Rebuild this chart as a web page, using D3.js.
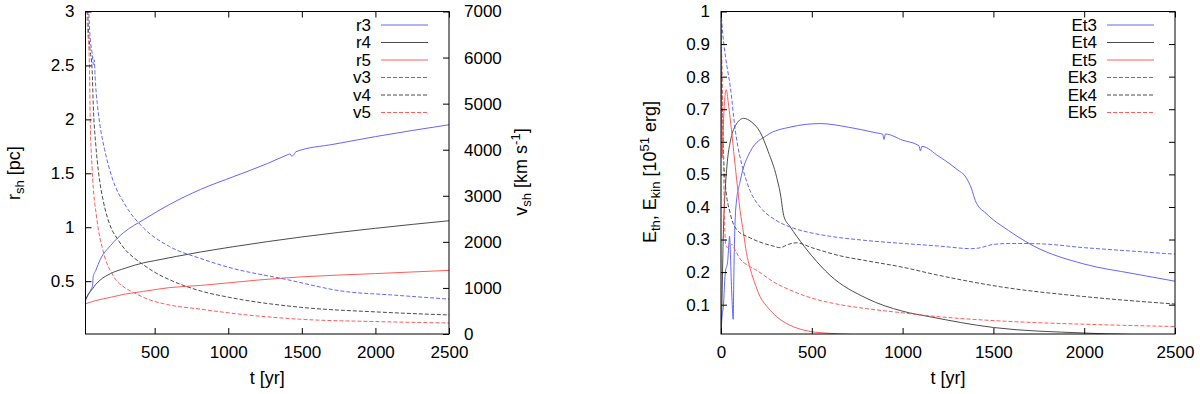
<!DOCTYPE html>
<html>
<head>
<meta charset="utf-8">
<script src="https://cdn.jsdelivr.net/npm/d3@7"></script>
<style>
  body { margin: 0; background: #fff; }
  svg { display: block; font-family: "Liberation Sans", Arial, sans-serif; }
  .tick text { font-size: 17px; fill: #000; }
</style>
</head>
<body>
<svg id="chart" width="1200" height="394"></svg>
<script>
// ---- data: [t (yr), value] ----
// left panel, shock radius (pc)
const r3 = [[30,0.32],[50,0.38],[70,0.43],[78,0.46],[82,0.54],[100,0.6],[130,0.7],[200,0.83],[289,0.95],[425,1.07],[600,1.21],[811,1.35],[1038,1.47],[1266,1.59],[1400,1.67],[1420,1.68],[1430,1.66],[1445,1.67],[1460,1.70],[1719,1.77],[2000,1.84],[2500,1.95]];
const r4 = [[30,0.33],[50,0.38],[78,0.43],[100,0.47],[130,0.51],[200,0.57],[300,0.62],[424,0.67],[500,0.69],[650,0.73],[811,0.77],[1038,0.82],[1500,0.91],[2000,0.99],[2500,1.06]];
const r5 = [[30,0.29],[100,0.32],[200,0.35],[300,0.38],[424,0.405],[600,0.44],[811,0.46],[1200,0.51],[1500,0.54],[2000,0.57],[2500,0.60]];
// left panel, shock velocity (km/s)
const v3 = [[45,7600],[52,7000],[60,6500],[75,6100],[85,5850],[90,5950],[95,5600],[110,5000],[130,4500],[160,4000],[210,3400],[300,2800],[425,2300],[600,1900],[811,1640],[1000,1450],[1378,1195],[1800,920],[2100,850],[2500,757]];
const v4 = [[40,7800],[45,7000],[60,6200],[74,5800],[85,4800],[100,4100],[119,3500],[150,2900],[198,2350],[250,2050],[300,1830],[357,1660],[424,1500],[500,1340],[600,1180],[811,935],[1000,800],[1491,580],[2000,480],[2500,413]];
const v5 = [[35,7800],[40,7000],[57,5800],[62,4650],[75,3600],[107,2500],[150,1800],[221,1250],[300,1000],[357,900],[450,760],[584,640],[811,540],[1000,460],[1491,320],[2000,270],[2500,240]];
// right panel, thermal energy (1e51 erg)
const et3 = [[0,0.01],[5,0.06],[14,0.1],[20,0.17],[24,0.2],[36,0.23],[44,0.29],[47,0.31],[51,0.27],[55,0.2],[62,0.1],[67,0.055],[71,0.2],[75,0.31],[82,0.4],[106,0.48],[161,0.57],[253,0.62],[380,0.645],[546,0.656],[700,0.645],[850,0.628],[890,0.623],[898,0.607],[905,0.624],[1000,0.605],[1090,0.588],[1098,0.572],[1106,0.586],[1200,0.555],[1261,0.532],[1300,0.515],[1350,0.49],[1380,0.455],[1400,0.42],[1420,0.40],[1450,0.385],[1500,0.36],[1538,0.345],[1722,0.28],[1998,0.225],[2274,0.195],[2500,0.172]];
const et4 = [[0,0.01],[5,0.1],[12,0.3],[18,0.4],[24,0.46],[35,0.54],[51,0.6],[80,0.65],[124,0.672],[170,0.66],[215,0.63],[260,0.57],[307,0.49],[330,0.43],[340,0.39],[347,0.37],[380,0.34],[417,0.31],[500,0.25],[601,0.19],[800,0.12],[1000,0.08],[1150,0.063],[1500,0.03],[2000,0.013],[2500,0.006]];
const et5 = [[0,1.0],[3,0.75],[6,0.55],[10,0.6],[15,0.68],[22,0.74],[29,0.76],[40,0.72],[51,0.67],[70,0.57],[87,0.48],[105,0.39],[124,0.32],[140,0.26],[161,0.21],[190,0.16],[215,0.125],[260,0.09],[307,0.063],[400,0.032],[491,0.018],[600,0.012],[700,0.009],[900,0.006]];
// right panel, kinetic energy (1e51 erg)
const ek3 = [[0,1.0],[10,0.93],[25,0.86],[51,0.77],[80,0.63],[124,0.51],[160,0.45],[215,0.40],[300,0.36],[399,0.335],[500,0.32],[601,0.31],[800,0.297],[1000,0.288],[1200,0.28],[1380,0.272],[1420,0.274],[1500,0.285],[1600,0.288],[1750,0.287],[2000,0.275],[2250,0.265],[2500,0.255]];
const ek4 = [[0,1.0],[5,0.8],[12,0.6],[24,0.47],[51,0.38],[87,0.33],[161,0.305],[287,0.28],[325,0.275],[370,0.285],[417,0.29],[500,0.275],[656,0.25],[800,0.235],[1000,0.215],[1200,0.19],[1538,0.155],[1998,0.125],[2500,0.102]];
const ek5 = [[0,1.0],[5,0.8],[13,0.55],[20,0.35],[27,0.28],[40,0.275],[60,0.285],[80,0.265],[106,0.24],[150,0.22],[197,0.205],[289,0.17],[380,0.145],[473,0.125],[656,0.1],[800,0.088],[1000,0.075],[1200,0.063],[1538,0.05],[2000,0.04],[2500,0.033]];

// tick values
const tTicksL = [500, 1000, 1500, 2000, 2500];
const tTicksR = [0, 500, 1000, 1500, 2000, 2500];
const rTicks = [0.5, 1, 1.5, 2, 2.5, 3];
const vTicks = [0, 1000, 2000, 3000, 4000, 5000, 6000, 7000];
const eTicks = [0.1, 0.2, 0.3, 0.4, 0.5, 0.6, 0.7, 0.8, 0.9, 1];

const BLUE = '#6464ff', GREY = '#4c4c4c', RED = '#ff5c5c';

const svg = d3.select('#chart');

// panel frames
const L = {x0: 85.5, x1: 449, y0: 11.5, y1: 334};
const R = {x0: 721, x1: 1175, y0: 11.5, y1: 334};

const xL = d3.scaleLinear([30, 2500], [L.x0, L.x1]);
const yL = d3.scaleLinear([0.01, 3], [L.y1, L.y0]);
const yV = d3.scaleLinear([0, 7000], [L.y1, L.y0]);
const xR = d3.scaleLinear([0, 2500], [R.x0, R.x1]);
const yR = d3.scaleLinear([0.01, 1], [R.y1, R.y0]);

const defs = svg.append('defs');
[['clipL', L], ['clipR', R]].forEach(([id, p]) => {
    defs.append('clipPath').attr('id', id).append('rect')
        .attr('x', p.x0).attr('y', p.y0).attr('width', p.x1 - p.x0).attr('height', p.y1 - p.y0);
});

function drawAxes(p, x, y, xTicks, yTicks, yRight) {
    const g = svg.append('g');
    const tk = 6;
    g.append('g').attr('transform', `translate(0,${p.y1})`)
        .call(d3.axisBottom(x).tickValues(xTicks).tickSizeInner(-tk).tickSizeOuter(0).tickPadding(12).tickFormat(d3.format('d')));
    g.append('g').attr('transform', `translate(0,${p.y0})`)
        .call(d3.axisTop(x).tickValues(xTicks).tickSizeInner(-tk).tickSizeOuter(0).tickFormat(''));
    g.append('g').attr('transform', `translate(${p.x0},0)`)
        .call(d3.axisLeft(y).tickValues(yTicks).tickSizeInner(-tk).tickSizeOuter(0).tickPadding(11).tickFormat(d => d));
    if (yRight) {
        g.append('g').attr('transform', `translate(${p.x1},0)`)
            .call(d3.axisRight(yRight.scale).tickValues(yRight.ticks).tickSizeInner(-tk).tickSizeOuter(0).tickPadding(15).tickFormat(d3.format('d')));
    } else {
        g.append('g').attr('transform', `translate(${p.x1},0)`)
            .call(d3.axisRight(y).tickValues(yTicks).tickSizeInner(-tk).tickSizeOuter(0).tickFormat(''));
    }
    g.selectAll('.domain').remove();
    g.selectAll('.tick line').attr('stroke', '#000');
    g.selectAll('g').attr('font-size', null).attr('font-family', null);
    svg.append('rect')
        .attr('x', p.x0).attr('y', p.y0).attr('width', p.x1 - p.x0).attr('height', p.y1 - p.y0)
        .attr('fill', 'none').attr('stroke', '#000').attr('stroke-width', 1);
}

function drawLines(series, x, clip) {
    const g = svg.append('g').attr('clip-path', `url(#${clip})`);
    series.forEach(s => {
        const line = d3.line().x(d => x(d[0])).y(d => s.y(d[1])).curve(d3.curveMonotoneX);
        g.append('path')
            .attr('d', line(s.data))
            .attr('fill', 'none')
            .attr('stroke', s.color)
            .attr('stroke-width', 1)
            .attr('stroke-dasharray', s.dash ? '4,2' : null);
    });
}

function drawLegend(series, xText, xs0, xs1, yStart, step) {
    const g = svg.append('g');
    series.forEach((s, i) => {
        const y = yStart + i * step;
        g.append('text').attr('x', xText).attr('y', y).attr('dy', '0.35em')
            .attr('text-anchor', 'end').attr('font-size', 17).text(s.name);
        g.append('line').attr('x1', xs0).attr('x2', xs1).attr('y1', y).attr('y2', y)
            .attr('stroke', s.color).attr('stroke-width', 1)
            .attr('stroke-dasharray', s.dash ? '4,2' : null);
    });
}

// ---- left panel ----
const leftSeries = [
    {name: 'r3', data: r3, color: BLUE, y: yL},
    {name: 'r4', data: r4, color: GREY, y: yL},
    {name: 'r5', data: r5, color: RED, y: yL},
    {name: 'v3', data: v3, color: BLUE, y: yV, dash: true},
    {name: 'v4', data: v4, color: GREY, y: yV, dash: true},
    {name: 'v5', data: v5, color: RED, y: yV, dash: true}
];
drawLines(leftSeries, xL, 'clipL');
drawAxes(L, xL, yL, tTicksL, rTicks, {scale: yV, ticks: vTicks});
drawLegend(leftSeries, 371, 381, 428, 25, 17.5);

// ---- right panel ----
const rightSeries = [
    {name: 'Et3', data: et3, color: BLUE, y: yR},
    {name: 'Et4', data: et4, color: GREY, y: yR},
    {name: 'Et5', data: et5, color: RED, y: yR},
    {name: 'Ek3', data: ek3, color: BLUE, y: yR, dash: true},
    {name: 'Ek4', data: ek4, color: GREY, y: yR, dash: true},
    {name: 'Ek5', data: ek5, color: RED, y: yR, dash: true}
];
drawLines(rightSeries, xR, 'clipR');
drawAxes(R, xR, yR, tTicksR, eTicks, null);
drawLegend(rightSeries, 1097, 1107, 1154, 25, 17.5);

// ---- axis titles ----
function ylabel(x, y, parts) {
    const t = svg.append('text')
        .attr('transform', `translate(${x},${y}) rotate(-90)`)
        .attr('text-anchor', 'middle').attr('font-size', 18);
    parts.forEach(p => {
        const sp = t.append('tspan').text(p.t);
        if (p.sub) sp.attr('font-size', 13).attr('dy', 4);
        if (p.sup) sp.attr('font-size', 13).attr('dy', -7);
        if (p.back) sp.attr('dy', p.back);
    });
}
ylabel(20, 173, [{t: 'r'}, {t: 'sh', sub: true}, {t: ' [pc]', back: -4}]);
ylabel(527, 172, [{t: 'v'}, {t: 'sh', sub: true}, {t: ' [km s', back: -4}, {t: '-1', sup: true}, {t: ']', back: 7}]);
ylabel(656, 172, [{t: 'E'}, {t: 'th', sub: true}, {t: ', E', back: -4}, {t: 'kin', sub: true}, {t: ' [10', back: -4}, {t: '51', sup: true}, {t: ' erg]', back: 7}]);

svg.append('text').attr('x', (L.x0 + L.x1) / 2).attr('y', 384)
    .attr('text-anchor', 'middle').attr('font-size', 18).text('t [yr]');
svg.append('text').attr('x', (R.x0 + R.x1) / 2).attr('y', 384)
    .attr('text-anchor', 'middle').attr('font-size', 18).text('t [yr]');
</script>
</body>
</html>
